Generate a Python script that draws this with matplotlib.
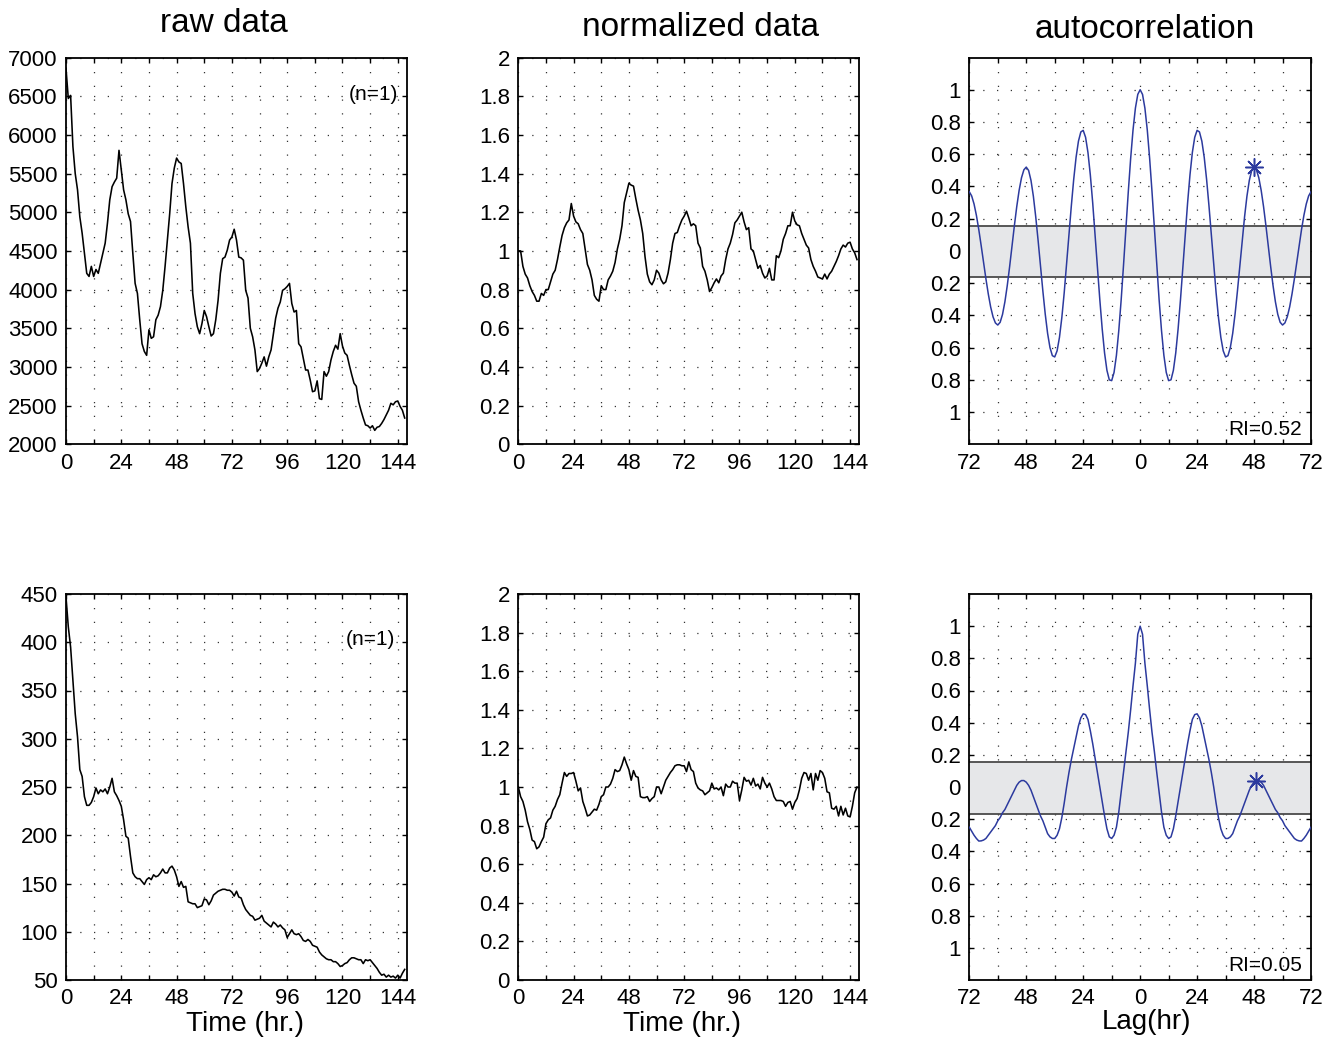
import numpy as np
import matplotlib
matplotlib.use('Agg')
import matplotlib.pyplot as plt

plt.rcParams['font.family'] = ['Liberation Sans', 'DejaVu Sans']

# ---------------- data ----------------
hours = np.arange(148)

raw_top = [6860, 6470, 6510, 5850, 5500, 5290, 4940, 4730, 4470, 4210,
           4170, 4300, 4170, 4260, 4210, 4340, 4470, 4600, 4860, 5160,
           5330, 5390, 5440, 5800, 5540, 5290, 5160, 4980, 4880, 4470,
           4080, 3950, 3610, 3300, 3200, 3150, 3480, 3370, 3390, 3610,
           3670, 3780, 3990, 4300, 4640, 4980, 5370, 5570, 5700, 5650,
           5630, 5370, 5070, 4810, 4600, 3950, 3690, 3520, 3430, 3560,
           3730, 3650, 3520, 3400, 3430, 3610, 3860, 4210, 4400, 4420,
           4510, 4640, 4680, 4780, 4640, 4420, 4410, 4380, 3990, 3890,
           3500, 3390, 3220, 2940, 2980, 3050, 3130, 3010, 3130, 3220,
           3430, 3630, 3760, 3840, 3990, 4010, 4040, 4080, 3820, 3710,
           3730, 3300, 3260, 3110, 2960, 2960, 2830, 2680, 2690, 2820,
           2590, 2580, 2940, 2880, 2940, 3090, 3200, 3280, 3230, 3430,
           3270, 3180, 3150, 3020, 2900, 2790, 2750, 2550, 2440, 2340,
           2250, 2240, 2210, 2240, 2180, 2220, 2230, 2270, 2320, 2380,
           2440, 2530, 2510, 2550, 2560, 2490, 2440, 2340]

norm_top = [1.00, 1.00, 0.92, 0.88, 0.86, 0.82, 0.79, 0.77, 0.74, 0.74,
            0.78, 0.77, 0.80, 0.80, 0.84, 0.88, 0.90, 0.955, 1.02, 1.08,
            1.12, 1.145, 1.16, 1.245, 1.18, 1.15, 1.14, 1.11, 1.09, 1.01,
            0.93, 0.90, 0.85, 0.77, 0.75, 0.74, 0.82, 0.80, 0.80, 0.85,
            0.87, 0.895, 0.94, 1.01, 1.06, 1.13, 1.25, 1.30, 1.35, 1.34,
            1.335, 1.27, 1.21, 1.16, 1.09, 0.97, 0.88, 0.84, 0.825, 0.85,
            0.90, 0.885, 0.85, 0.83, 0.84, 0.885, 0.955, 1.04, 1.09, 1.095,
            1.13, 1.16, 1.18, 1.205, 1.17, 1.13, 1.14, 1.13, 1.04, 1.015,
            0.92, 0.895, 0.85, 0.79, 0.81, 0.835, 0.855, 0.835, 0.87, 0.885,
            0.955, 1.01, 1.04, 1.085, 1.145, 1.16, 1.18, 1.20, 1.15, 1.11,
            1.12, 1.01, 1.00, 0.955, 0.91, 0.925, 0.885, 0.86, 0.87, 0.91,
            0.85, 0.85, 0.975, 0.965, 1.00, 1.06, 1.09, 1.13, 1.13, 1.20,
            1.155, 1.135, 1.13, 1.09, 1.06, 1.03, 1.015, 0.955, 0.92, 0.895,
            0.865, 0.86, 0.855, 0.88, 0.855, 0.88, 0.895, 0.92, 0.945, 0.975,
            1.01, 1.03, 1.02, 1.04, 1.045, 1.01, 0.99, 0.955]

raw_bot = [447, 416, 395, 361, 326, 302, 268, 261, 240, 231,
           231, 234, 240, 249, 243, 247, 245, 248, 243, 250,
           259, 245, 241, 236, 230, 216, 199, 197, 178, 161,
           157, 155, 155, 152, 149, 154, 156, 154, 159, 157,
           158, 161, 165, 161, 161, 166, 168, 164, 157, 147,
           152, 146, 147, 131, 130, 129, 129, 125, 126, 127,
           134, 133, 128, 132, 138, 140, 142, 143, 144, 144,
           143, 143, 141, 137, 142, 136, 135, 128, 123, 120,
           117, 116, 112, 113, 114, 117, 111, 109, 107, 105,
           110, 108, 105, 107, 104, 102, 94, 98, 102, 98,
           97, 98, 95, 91, 90, 92, 90, 86, 85, 84,
           79, 76, 74, 72, 71, 71, 69, 69, 67, 64,
           65, 67, 68, 71, 73, 73, 72, 71, 71, 67,
           71, 70, 71, 68, 65, 62, 58, 55, 56, 53,
           55, 53, 54, 52, 55, 52, 57, 61]

norm_bot = [1.00, 0.95, 0.925, 0.88, 0.82, 0.78, 0.725, 0.717, 0.68, 0.69,
            0.717, 0.74, 0.81, 0.83, 0.84, 0.88, 0.90, 0.935, 0.96, 1.02,
            1.075, 1.055, 1.07, 1.07, 1.075, 1.03, 0.98, 0.995, 0.925, 0.89,
            0.85, 0.855, 0.87, 0.885, 0.88, 0.91, 0.95, 0.96, 1.00, 1.00,
            1.015, 1.045, 1.09, 1.08, 1.085, 1.115, 1.155, 1.12, 1.09, 1.035,
            1.085, 1.055, 1.05, 0.95, 0.945, 0.945, 0.95, 0.925, 0.94, 0.95,
            1.00, 1.00, 0.965, 1.00, 1.035, 1.055, 1.075, 1.09, 1.11, 1.115,
            1.115, 1.11, 1.11, 1.08, 1.13, 1.09, 1.08, 1.02, 0.995, 0.985,
            0.98, 0.96, 0.97, 0.98, 1.02, 0.99, 0.995, 0.985, 1.00, 0.955,
            1.015, 1.00, 1.00, 1.03, 1.02, 1.02, 0.93, 0.985, 1.05, 1.03,
            1.035, 1.01, 1.045, 1.005, 1.015, 0.99, 1.05, 1.02, 1.00, 1.02,
            0.99, 0.95, 0.93, 0.93, 0.93, 0.925, 0.90, 0.92, 0.925, 0.885,
            0.92, 0.94, 0.985, 1.045, 1.075, 1.07, 1.035, 1.07, 0.985, 1.07,
            1.035, 1.085, 1.075, 1.045, 0.975, 0.97, 0.89, 0.885, 0.90, 0.85,
            0.90, 0.855, 0.89, 0.85, 0.845, 0.90, 0.97, 1.00]

lags = np.arange(73)  # 0..72 hr, curve is symmetric
acorr_top = [1.000, 0.971, 0.886, 0.751, 0.574, 0.366, 0.141, -0.087, -0.304, -0.494,
             -0.648, -0.754, -0.805, -0.800, -0.741, -0.633, -0.483, -0.302, -0.102, 0.103,
             0.299, 0.472, 0.611, 0.705, 0.748, 0.738, 0.681, 0.581, 0.444, 0.280,
             0.100, -0.083, -0.259, -0.413, -0.536, -0.620, -0.658, -0.650, -0.600, -0.512,
             -0.392, -0.249, -0.094, 0.064, 0.211, 0.339, 0.437, 0.499, 0.520, 0.503,
             0.454, 0.376, 0.275, 0.157, 0.030, -0.097, -0.215, -0.316, -0.394, -0.443,
             -0.460, -0.447, -0.409, -0.348, -0.267, -0.173, -0.071, 0.033, 0.132, 0.220,
             0.291, 0.341, 0.367]
acorr_bot = [1.00, 0.95, 0.77, 0.63, 0.48, 0.34, 0.22, 0.09, -0.03, -0.155,
             -0.25, -0.30, -0.32, -0.31, -0.26, -0.18, -0.09, 0.00, 0.09, 0.18,
             0.27, 0.35, 0.42, 0.45, 0.455, 0.43, 0.38, 0.31, 0.24, 0.17,
             0.09, 0.00, -0.10, -0.19, -0.26, -0.30, -0.32, -0.32, -0.31, -0.29,
             -0.25, -0.21, -0.18, -0.14, -0.10, -0.06, -0.02, 0.01, 0.03, 0.04,
             0.04, 0.03, 0.01, -0.02, -0.05, -0.08, -0.11, -0.14, -0.16, -0.19,
             -0.21, -0.24, -0.26, -0.28, -0.30, -0.32, -0.33, -0.335, -0.336, -0.32,
             -0.30, -0.275, -0.25]

band_low, band_high = -0.165, 0.155
ri_labels = ['RI=0.52', 'RI=0.05']
titles = ['raw data', 'normalized data', 'autocorrelation']

# ---------------- figure ----------------
FW, FH = 1338, 1041
fig = plt.figure(figsize=(FW / 100, FH / 100), dpi=100)


def add_ax(left, top, w, h):
    return fig.add_axes([left / FW, 1 - (top + h) / FH, w / FW, h / FH])


col_left = [66, 518.3, 969.3]
col_w = [341, 341, 341.7]
row_top = [57.5, 594]
row_h = [386.8, 386]

DOT = (0, (1, 10))
BLUE = '#2c3a9e'


def style(ax):
    for s in ax.spines.values():
        s.set_linewidth(1.3)
        s.set_color('k')
    ax.tick_params(direction='in', length=3.5, width=1, top=True, right=True,
                   labelsize=16, pad=6, colors='k')
    ax.grid(True, color='#333333', linestyle=DOT, linewidth=0.9)
    ax.set_axisbelow(True)


def time_axis(ax):
    ticks = np.arange(0, 145, 12)
    ax.set_xticks(ticks)
    ax.set_xticklabels([str(t) if t % 24 == 0 else '' for t in ticks])
    ax.set_xlim(0, 148)


raws = [raw_top, raw_bot]
norms = [norm_top, norm_bot]
acorrs = [acorr_top, acorr_bot]
raw_ylims = [(2000, 7000, 500), (50, 450, 50)]

for r in range(2):
    # raw
    ax = add_ax(col_left[0], row_top[r], col_w[0], row_h[r])
    style(ax)
    ax.plot(hours, raws[r], color='k', lw=1.15, zorder=3)
    time_axis(ax)
    lo, hi, st = raw_ylims[r]
    ax.set_ylim(lo, hi)
    ax.set_yticks(np.arange(lo, hi + 1, st))
    ax.text(0.975 if r == 0 else 0.965, 0.905 if r == 0 else 0.881, '(n=1)',
            transform=ax.transAxes, ha='right', va='center', fontsize=15)

    # normalized
    ax = add_ax(col_left[1], row_top[r], col_w[1], row_h[r])
    style(ax)
    ax.plot(hours, norms[r], color='k', lw=1.15, zorder=3)
    time_axis(ax)
    ax.set_ylim(0, 2)
    yt = np.round(np.arange(0, 2.01, 0.2), 1)
    ax.set_yticks(yt)
    ax.set_yticklabels(['%g' % v for v in yt])

    # autocorrelation
    ax = add_ax(col_left[2], row_top[r], col_w[2], row_h[r])
    style(ax)
    vals = np.array(acorrs[r])
    full_lag = np.concatenate([-lags[::-1], lags[1:]])
    full_val = np.concatenate([vals[::-1], vals[1:]])
    ax.axhspan(band_low, band_high, color='#e6e7e9', zorder=1.5, lw=0)
    ax.axhline(band_high, color='#4a4a4a', lw=1.3, zorder=1.6)
    ax.axhline(band_low, color='#4a4a4a', lw=1.3, zorder=1.6)
    ax.plot(full_lag, full_val, color=BLUE, lw=1.1, zorder=3)
    seg = slice(40, 61)
    k = 40 + int(np.argmax(vals[seg]))
    ax.plot([lags[k]], [vals[k]], marker=(8, 2, 0), markersize=13,
            markeredgewidth=1.1, color=BLUE, zorder=4)
    xt = np.arange(-72, 73, 12)
    ax.set_xticks(xt)
    ax.set_xticklabels([str(abs(t)) if t % 24 == 0 else '' for t in xt])
    ax.set_xlim(-72, 72)
    ax.set_ylim(-1.2, 1.2)
    yt = np.round(np.arange(-1, 1.01, 0.2), 1)
    ax.set_yticks(yt)
    ax.set_yticklabels(['%g' % abs(v) for v in yt])
    ax.text(0.974, 0.038, ri_labels[r], transform=ax.transAxes,
            ha='right', va='center', fontsize=15)

# titles
fig.text(224 / FW, 1 - 23 / FH, titles[0], ha='center', va='center', fontsize=24)
fig.text(700 / FW, 1 - 27 / FH, titles[1], ha='center', va='center', fontsize=24)
fig.text(1145 / FW, 1 - 29 / FH, titles[2], ha='center', va='center', fontsize=24)

# axis labels
fig.text(245 / FW, 1 - 1024 / FH, 'Time (hr.)', ha='center', va='center', fontsize=20)
fig.text(682 / FW, 1 - 1024 / FH, 'Time (hr.)', ha='center', va='center', fontsize=20)
fig.text(1147 / FW, 1 - 1022 / FH, 'Lag(hr)', ha='center', va='center', fontsize=20)

fig.savefig('out.png', dpi=100)
